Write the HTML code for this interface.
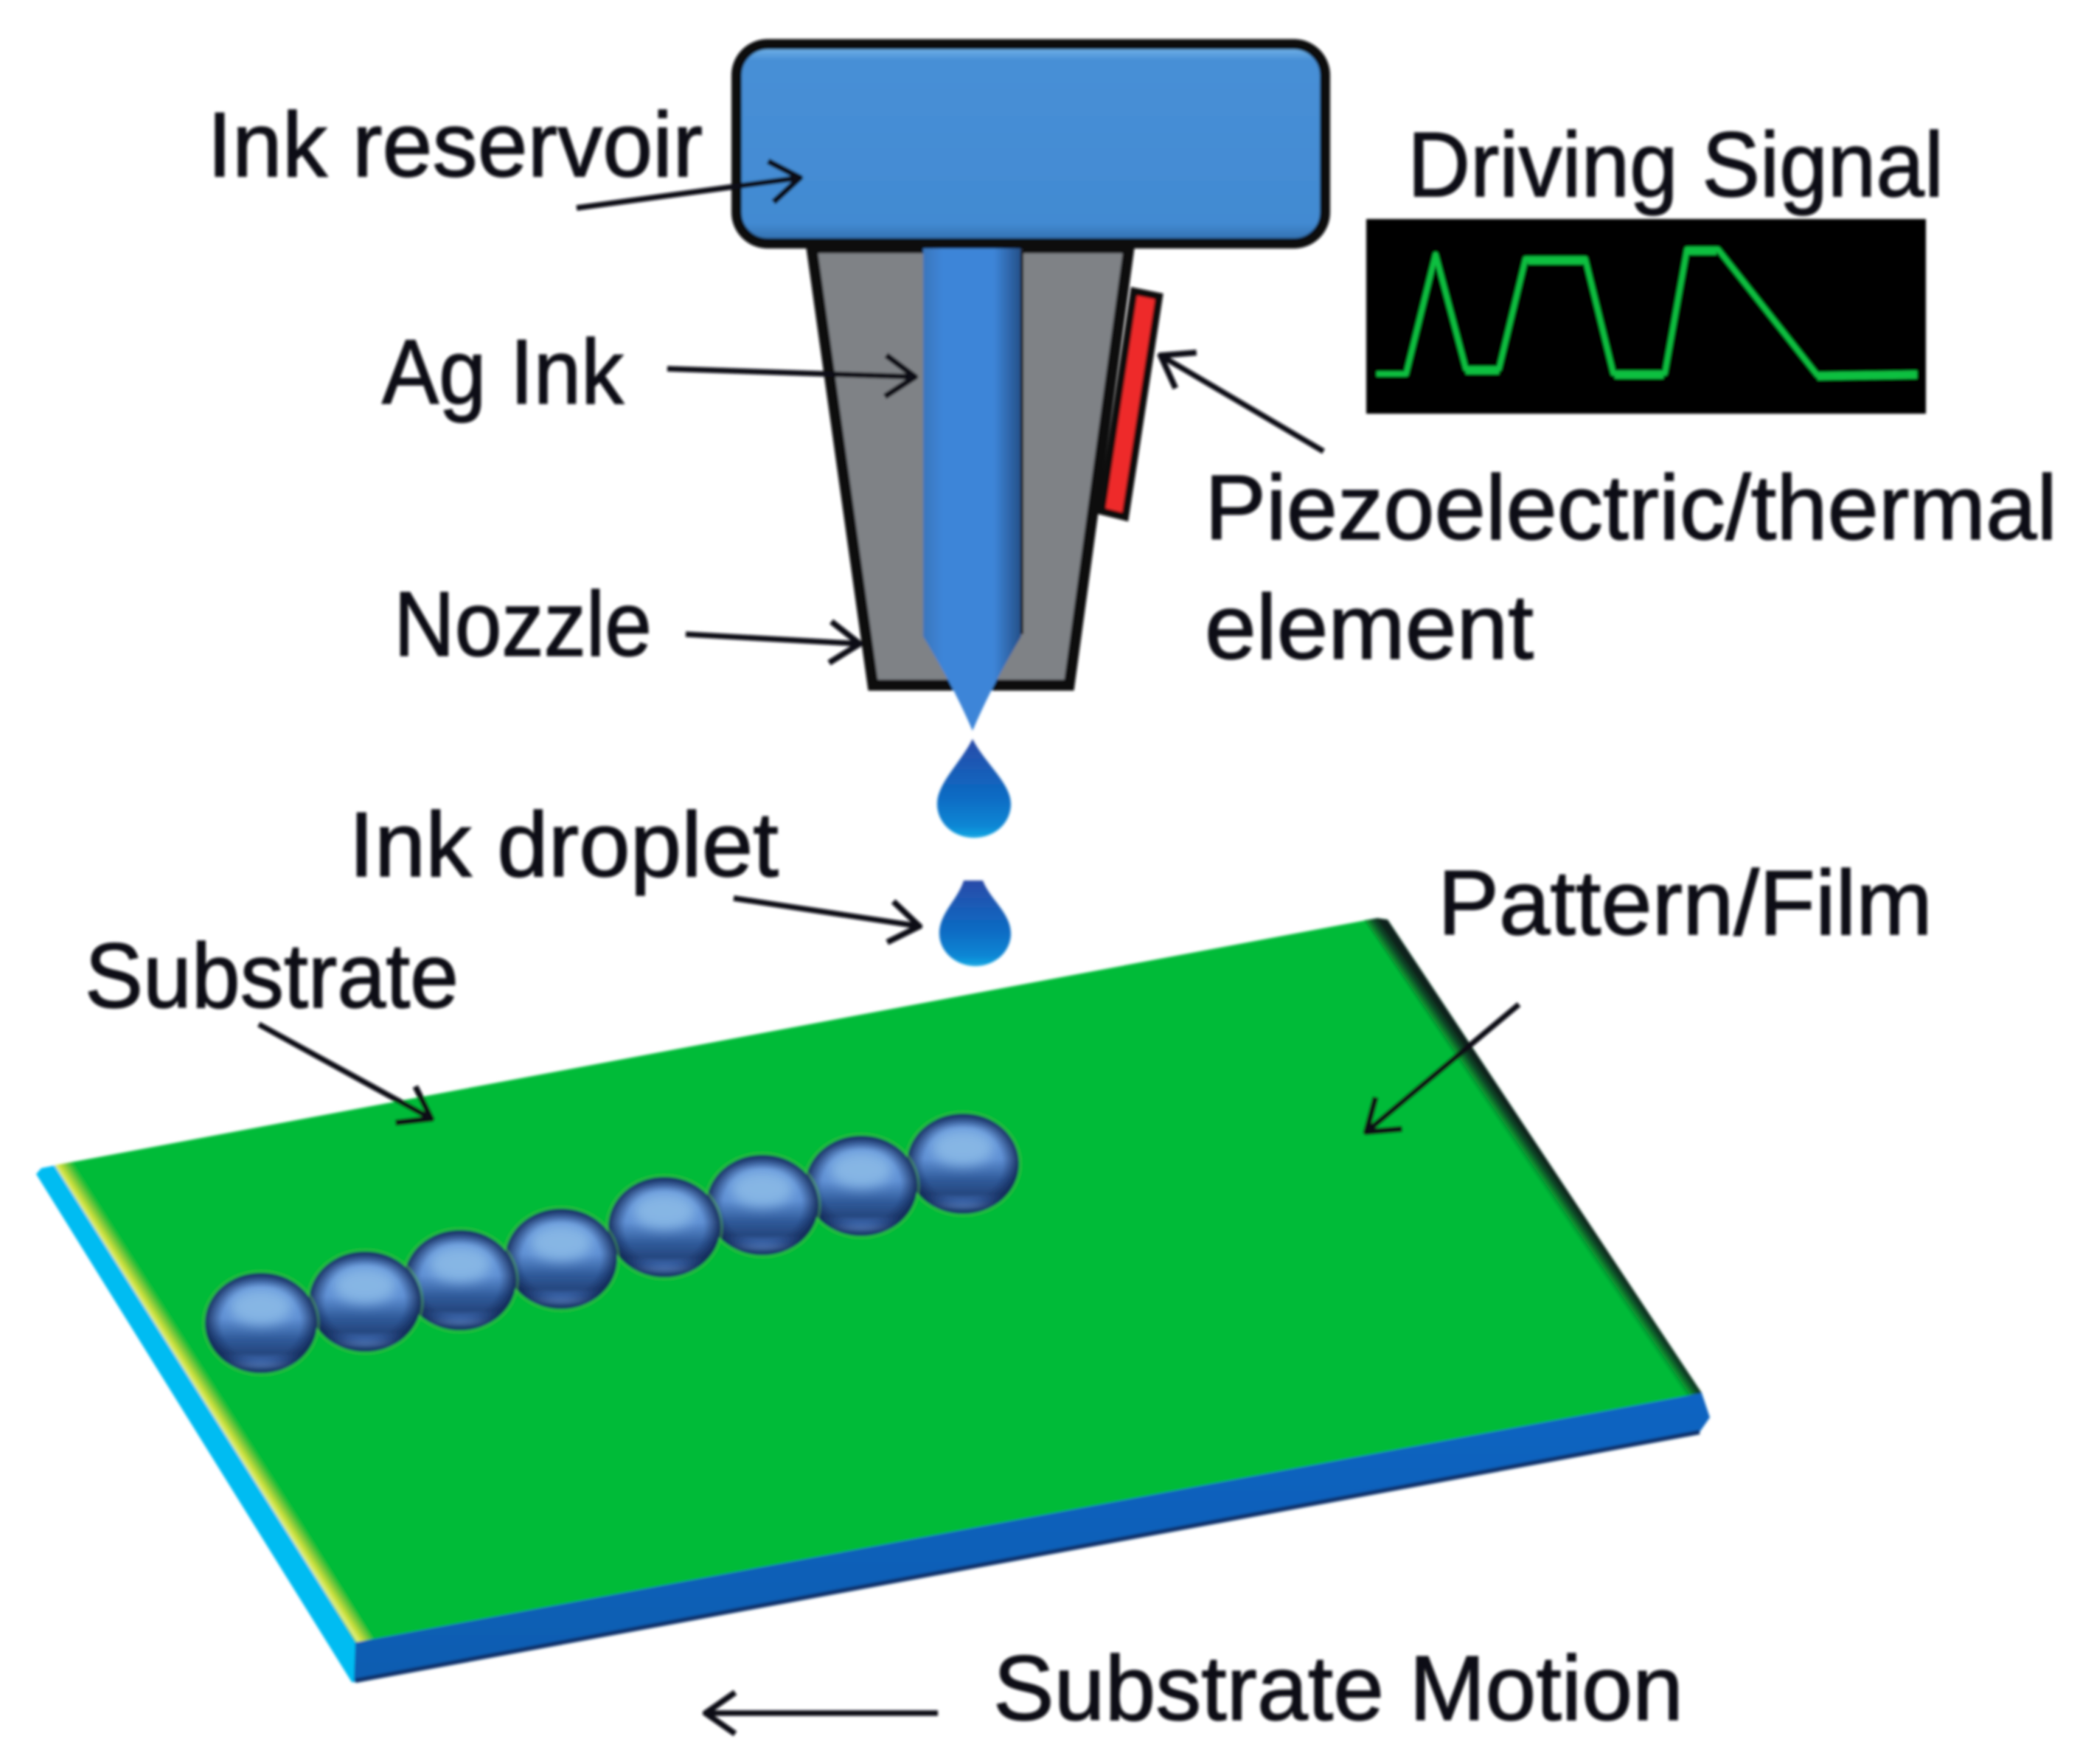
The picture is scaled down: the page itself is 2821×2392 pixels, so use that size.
<!DOCTYPE html>
<html><head><meta charset="utf-8"><style>html,body{margin:0;padding:0;background:#fff}svg{display:block}</style></head><body>
<svg xmlns="http://www.w3.org/2000/svg" xmlns:xlink="http://www.w3.org/1999/xlink" width="2821" height="2392" viewBox="0 0 2821 2392">
<defs>
<linearGradient id="res" x1="0" y1="0" x2="0" y2="1"><stop offset="0" stop-color="#7fbdee"/><stop offset=".08" stop-color="#478fd6"/><stop offset=".9" stop-color="#428ad2"/><stop offset="1" stop-color="#2f6aa8"/></linearGradient>
<linearGradient id="col" x1="0" y1="0" x2="1" y2="0"><stop offset="0" stop-color="#3a76bc"/><stop offset=".2" stop-color="#3d85d8"/><stop offset=".72" stop-color="#3d85d8"/><stop offset="1" stop-color="#244f88"/></linearGradient>
<linearGradient id="drop" x1="0" y1="0" x2="0" y2="1"><stop offset="0" stop-color="#2a4aa8"/><stop offset=".6" stop-color="#0a6cc4"/><stop offset=".88" stop-color="#0c86d4"/><stop offset="1" stop-color="#14a8e4"/></linearGradient>
<linearGradient id="front" x1="0" y1="0" x2="0" y2="1"><stop offset="0" stop-color="#0a64c2"/><stop offset="1" stop-color="#0a5cb0"/></linearGradient>
<linearGradient id="yl" gradientUnits="userSpaceOnUse" x1="277" y1="1903" x2="299" y2="1889"><stop offset="0" stop-color="#e0f4a0"/><stop offset=".3" stop-color="#cde03a"/><stop offset=".6" stop-color="#7cc83a"/><stop offset="1" stop-color="#00bb38"/></linearGradient>
<linearGradient id="rt" gradientUnits="userSpaceOnUse" x1="2091" y1="1567" x2="2072" y2="1580"><stop offset="0" stop-color="#08201a"/><stop offset=".35" stop-color="#0c4a28"/><stop offset=".7" stop-color="#08902f"/><stop offset="1" stop-color="#00bb38"/></linearGradient>
<linearGradient id="bd" x1="0" y1="0" x2="0" y2="1"><stop offset="0" stop-color="#3f6fb8"/><stop offset=".15" stop-color="#6496dc"/><stop offset=".45" stop-color="#5f90d4"/><stop offset=".66" stop-color="#2f5a9a"/><stop offset=".8" stop-color="#26477f"/><stop offset=".87" stop-color="#3a66ac"/><stop offset=".93" stop-color="#6a98dc"/><stop offset="1" stop-color="#2f7ab0"/></linearGradient>
<radialGradient id="bdge" cx=".5" cy=".5" r=".5"><stop offset=".7" stop-color="#142a5c" stop-opacity="0"/><stop offset="1" stop-color="#0c1f4a" stop-opacity=".85"/></radialGradient>
<filter id="soft" x="-2%" y="-2%" width="104%" height="104%"><feGaussianBlur stdDeviation="1.8"/></filter>
<filter id="hl" x="-40%" y="-40%" width="180%" height="180%"><feGaussianBlur stdDeviation="8"/></filter>
<marker id="a" viewBox="0 0 52 64" refX="48" refY="32" markerWidth="52" markerHeight="64" markerUnits="userSpaceOnUse" orient="auto"><path d="M8 4L48 32L8 60" fill="none" stroke="#0a0a14" stroke-width="8"/></marker>
<g id="b">
<ellipse rx="78" ry="70" fill="none" stroke="#56c248" stroke-width="3" opacity=".45"/>
<ellipse rx="76" ry="68" fill="url(#bd)"/>
<ellipse rx="76" ry="68" fill="url(#bdge)"/>
<ellipse cy="-22" rx="42" ry="24" fill="#86b6e4" filter="url(#hl)"/>
</g>
</defs>
<g filter="url(#soft)">
<!-- substrate -->
<polygon points="49,1592 56,1584 86,1578 484,2225 482,2281 477,2281" fill="#00bcf2"/>
<polygon points="86,1578 1868,1245 1882,1247 2308,1889 482,2227" fill="#00bb38"/>
<polygon points="74,1580 108,1574 506,2222 484,2227" fill="url(#yl)"/>
<polygon points="1868,1245 1882,1247 2308,1889 2282,1894 1850,1248" fill="url(#rt)"/>
<polygon points="482,2227 2308,1889 2319,1922 2305,1942 480,2281" fill="url(#front)"/>
<line x1="482" y1="2279" x2="2305" y2="1942" stroke="#08306c" stroke-width="6"/>
<!-- nozzle -->
<polygon points="1101,336 1531,336 1450,929 1184,929" fill="#7f8286" stroke="#0a0a0f" stroke-width="15" stroke-linejoin="miter"/>
<polygon points="1538,395 1572,402 1526,701 1494,693" fill="#ee2a2a" stroke="#0a0a0f" stroke-width="10"/>
<path d="M1252 336H1385V863Q1345 930 1319 991Q1293 930 1252 863Z" fill="url(#col)"/>
<line x1="1386" y1="336" x2="1386" y2="860" stroke="#1c1c22" stroke-width="4"/>
<rect x="999" y="60" width="798" height="270" rx="42" fill="url(#res)" stroke="#07080f" stroke-width="14"/>
<!-- droplets -->
<path d="M1319 1002C1335 1034 1371 1062 1371 1090C1371 1117 1348 1136 1321 1136C1294 1136 1271 1117 1271 1090C1271 1062 1303 1034 1319 1002Z" fill="url(#drop)"/>
<path d="M1307 1194H1333C1343 1220 1371 1238 1371 1266C1371 1290 1350 1310 1323 1310C1296 1310 1274 1290 1274 1266C1274 1238 1299 1220 1307 1194Z" fill="url(#drop)"/>
<!-- beads -->
<use xlink:href="#b" href="#b" x="1306" y="1578"/>
<use xlink:href="#b" href="#b" x="1168" y="1608"/>
<use xlink:href="#b" href="#b" x="1034" y="1634"/>
<use xlink:href="#b" href="#b" x="901" y="1664"/>
<use xlink:href="#b" href="#b" x="761" y="1707"/>
<use xlink:href="#b" href="#b" x="624" y="1736"/>
<use xlink:href="#b" href="#b" x="495" y="1765"/>
<use xlink:href="#b" href="#b" x="354" y="1794"/>
<!-- signal -->
<rect x="1853" y="297" width="759" height="264" fill="#000"/>
<polyline points="1867,507 1907,507 1947,345 1988,500 2033,500 2069,351 2150,351 2188,506 2258,506 2288,338 2330,338 2465,509 2600,506" fill="none" stroke="#10c040" stroke-width="7" stroke-linejoin="round"/>
<g stroke="#10c040" stroke-width="11" fill="none"><line x1="1988" y1="502" x2="2033" y2="502"/><line x1="2072" y1="353" x2="2148" y2="353"/><line x1="2190" y1="508" x2="2256" y2="508"/><line x1="2290" y1="340" x2="2328" y2="340"/><line x1="2465" y1="510" x2="2600" y2="508"/></g>
<!-- arrows -->
<g stroke="#0a0a14" stroke-width="7.5" fill="none">
<line x1="782" y1="282" x2="1085" y2="241" marker-end="url(#a)"/>
<line x1="905" y1="500" x2="1241" y2="511" marker-end="url(#a)"/>
<line x1="930" y1="860" x2="1166" y2="873" marker-end="url(#a)"/>
<line x1="1795" y1="612" x2="1574" y2="482" marker-end="url(#a)"/>
<line x1="995" y1="1218" x2="1247" y2="1256" marker-end="url(#a)"/>
<line x1="351" y1="1389" x2="585" y2="1517" marker-end="url(#a)"/>
<line x1="2060" y1="1362" x2="1853" y2="1535" marker-end="url(#a)"/>
<line x1="1272" y1="2323" x2="957" y2="2323" marker-end="url(#a)"/>
</g>
<!-- labels -->
<g font-family="'Liberation Sans',sans-serif" font-size="124" fill="#0c0c12" stroke="#0c0c12" stroke-width="1.5">
<text x="281" y="239" textLength="672" lengthAdjust="spacingAndGlyphs">Ink reservoir</text>
<text x="1909" y="266" textLength="727" lengthAdjust="spacingAndGlyphs">Driving Signal</text>
<text x="518" y="547" textLength="328" lengthAdjust="spacingAndGlyphs">Ag Ink</text>
<text x="534" y="889" textLength="350" lengthAdjust="spacingAndGlyphs">Nozzle</text>
<text x="1634" y="731" textLength="1156" lengthAdjust="spacingAndGlyphs">Piezoelectric/thermal</text>
<text x="1634" y="893" textLength="446" lengthAdjust="spacingAndGlyphs">element</text>
<text x="473" y="1188" textLength="583" lengthAdjust="spacingAndGlyphs">Ink droplet</text>
<text x="1950" y="1267" textLength="671" lengthAdjust="spacingAndGlyphs">Pattern/Film</text>
<text x="115" y="1366" textLength="507" lengthAdjust="spacingAndGlyphs">Substrate</text>
<text x="1347" y="2332" textLength="936" lengthAdjust="spacingAndGlyphs">Substrate Motion</text>
</g>
</g>
</svg>
</body></html>
